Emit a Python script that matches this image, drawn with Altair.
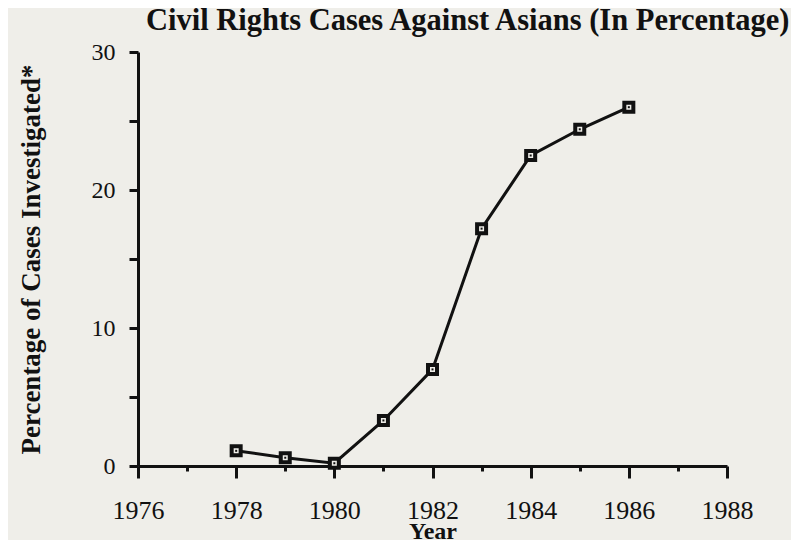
import altair as alt
import pandas as pd

years = [1978, 1979, 1980, 1981, 1982, 1983, 1984, 1985, 1986]
percent = [1.1, 0.6, 0.2, 3.3, 7.0, 17.2, 22.5, 24.4, 26.0]
x_ticks = list(range(1976, 1989))
y_ticks = [0, 5, 10, 15, 20, 25, 30]

TITLE = "Civil Rights Cases Against Asians (In Percentage)"
Y_TITLE = "Percentage of Cases Investigated*"
X_TITLE = "Year"

PAPER = "#efeee9"
INK = "#111111"
SERIF = "Liberation Serif"

df = pd.DataFrame({"year": years, "pct": percent})
title_df = pd.DataFrame({"t": [TITLE]})

x_enc = alt.X(
    "year:Q",
    scale=alt.Scale(domain=[1976, 1988], nice=False, zero=False),
    axis=alt.Axis(
        values=x_ticks,
        format="d",
        labelExpr="datum.value % 2 === 0 ? datum.label : ''",
        tickSize={"condition": {"test": "datum.value % 2 === 0", "value": 12}, "value": 5},
        tickWidth=3,
        domainWidth=3,
        domainColor=INK,
        tickColor=INK,
        grid=False,
        labelFont=SERIF,
        labelFontSize=26,
        labelColor=INK,
        labelPadding=19,
        labelFlush=False,
        title=X_TITLE,
        titleFont=SERIF,
        titleFontSize=24,
        titleFontWeight="bold",
        titleColor=INK,
        titlePadding=-4,
    ),
)
y_enc = alt.Y(
    "pct:Q",
    scale=alt.Scale(domain=[0, 30], nice=False),
    axis=alt.Axis(
        values=y_ticks,
        labelExpr="datum.value % 10 === 0 ? datum.label : ''",
        tickSize=9,
        tickWidth=3,
        domainWidth=3,
        domainColor=INK,
        tickColor=INK,
        grid=False,
        labelFont=SERIF,
        labelFontSize=24,
        labelColor=INK,
        labelPadding=14,
        labelFlush=False,
        title=Y_TITLE,
        titleFont=SERIF,
        titleFontSize=27,
        titleFontWeight="bold",
        titleColor=INK,
        titlePadding=46,
    ),
)

base = alt.Chart(df).encode(x=x_enc, y=y_enc)
line = base.mark_line(color=INK, strokeWidth=3)
squares = base.mark_point(shape="square", size=81, filled=True, fill=PAPER,
                          stroke=INK, strokeWidth=4, opacity=1)
dots = base.mark_point(shape="square", size=4, filled=True, color=INK, opacity=1)

title_text = alt.Chart(title_df).mark_text(
    font=SERIF, fontSize=30.5, fontWeight="bold", color=INK,
    align="left", baseline="alphabetic",
).encode(x=alt.value(8), y=alt.value(-22), text="t:N")

chart = (
    alt.layer(line, squares, dots, title_text)
    .properties(
        width=589,
        height=414,
        autosize=alt.AutoSizeParams(type="none"),
        padding={"left": 130, "top": 44, "right": 64, "bottom": 74},
        background=PAPER,
    )
    .configure_view(stroke=None)
)

chart.save("out.html", embed_options={"renderer": "svg", "actions": False})
